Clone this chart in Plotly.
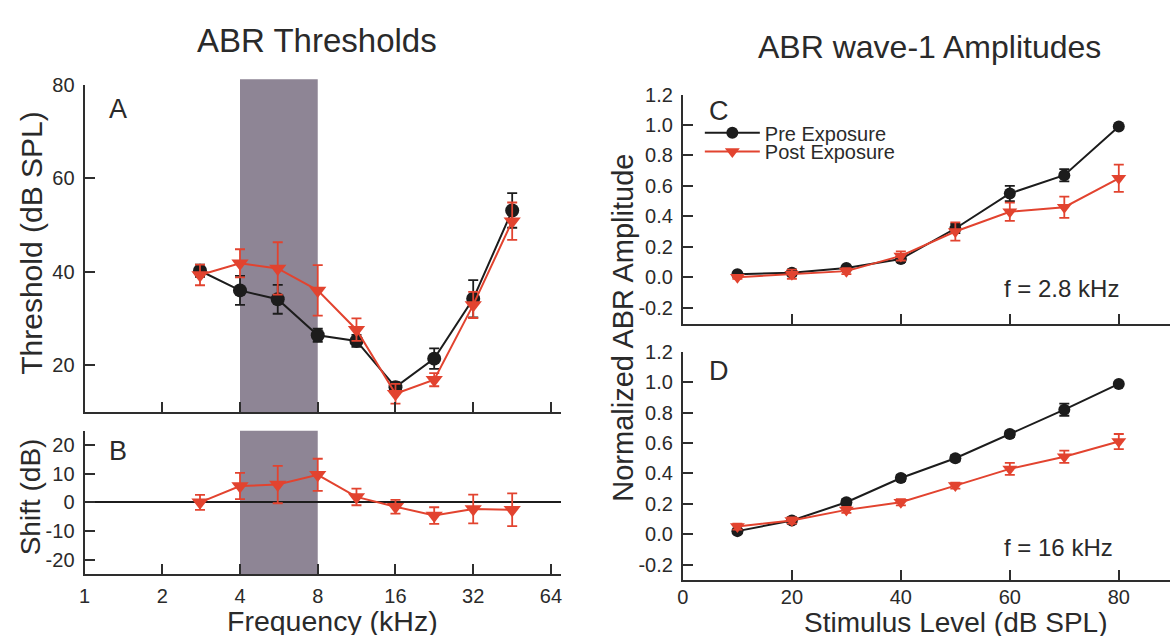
import numpy as np
import plotly.graph_objects as go

# ---------------- data ----------------
freq_khz = [2.8, 4, 5.6, 8, 11.3, 16, 22.6, 32, 45.3]
pre_thr = [40.2, 36.0, 34.1, 26.4, 25.2, 15.3, 21.4, 34.2, 53.1]
pre_thr_err = [1.3, 3.1, 3.1, 1.4, 1.3, 1.1, 2.2, 4.0, 3.7]
post_thr = [39.3, 41.8, 40.7, 36.0, 27.6, 13.9, 16.9, 32.9, 50.8]
post_thr_err = [2.2, 3.0, 5.6, 5.4, 2.4, 2.1, 1.4, 2.8, 4.0]
shift_db = [0.0, 5.7, 6.2, 9.6, 1.9, -1.5, -4.6, -2.3, -2.6]
shift_err = [2.6, 4.6, 6.5, 5.6, 2.9, 2.4, 2.9, 5.0, 5.7]
exposure_band_khz = [4, 8]

freq_ticks = [1, 2, 4, 8, 16, 32, 64]
freq_ticklabels = ["1", "2", "4", "8", "16", "32", "64"]
thr_ticks = [20, 40, 60, 80]
shift_ticks = [20, 10, 0, -10, -20]
shift_ticklabels = ["20", "10", "0", "-10", "-20"]

level_db = [10, 20, 30, 40, 50, 60, 70, 80]
c_pre = [0.02, 0.03, 0.06, 0.12, 0.32, 0.55, 0.67, 0.99]
c_pre_err = [0.01, 0.02, 0.01, 0.02, 0.03, 0.05, 0.04, 0.01]
c_post = [0.0, 0.02, 0.04, 0.14, 0.30, 0.43, 0.46, 0.65]
c_post_err = [0.01, 0.03, 0.02, 0.03, 0.06, 0.06, 0.07, 0.09]
d_pre = [0.02, 0.09, 0.21, 0.37, 0.50, 0.66, 0.82, 0.99]
d_pre_err = [0.01, 0.02, 0.02, 0.02, 0.02, 0.02, 0.04, 0.01]
d_post = [0.05, 0.09, 0.16, 0.21, 0.32, 0.43, 0.51, 0.61]
d_post_err = [0.02, 0.02, 0.02, 0.02, 0.02, 0.04, 0.04, 0.05]
amp_ticks = [-0.2, 0.0, 0.2, 0.4, 0.6, 0.8, 1.0, 1.2]
amp_ticklabels = ["-0.2", "0.0", "0.2", "0.4", "0.6", "0.8", "1.0", "1.2"]
level_ticks = [0, 20, 40, 60, 80]
level_ticklabels = ["0", "20", "40", "60", "80"]

# ---------------- style ----------------
W, H = 1171, 637
FONT = "Liberation Sans, Arial, sans-serif"
BLACK = "#1c1c1c"
RED = "#e2432f"
AXC = "#2e2e2e"
SHADE = "#8e8595"
TXT = "#2a2a2a"


def px_x(p):
    return p / W


def px_y(p):
    return 1 - p / H


fig = go.Figure()


def add_series(x, y, err, xa, ya, color, symbol, size, name, showlegend, legend="legend"):
    fig.add_trace(go.Scatter(
        x=x, y=y, xaxis=xa, yaxis=ya, mode="lines+markers", name=name,
        showlegend=showlegend, legend=legend,
        line=dict(color=color, width=2),
        marker=dict(color=color, symbol=symbol, size=size),
        error_y=dict(type="data", array=err, color=color, thickness=1.8, width=5),
    ))


# Panel A
add_series(freq_khz, pre_thr, pre_thr_err, "x", "y", BLACK, "circle", 14, "Pre Exposure", False)
add_series(freq_khz, post_thr, post_thr_err, "x", "y", RED, "triangle-down", 15, "Post Exposure", False)
# Panel B
add_series(freq_khz, shift_db, shift_err, "x2", "y2", RED, "triangle-down", 15, "Shift", False)
# Panel C
add_series(level_db, c_pre, c_pre_err, "x3", "y3", BLACK, "circle", 12, "Pre Exposure", True, "legend")
add_series(level_db, c_post, c_post_err, "x3", "y3", RED, "triangle-down", 13, "Post Exposure", True, "legend2")
# Panel D
add_series(level_db, d_pre, d_pre_err, "x4", "y4", BLACK, "circle", 12, "Pre Exposure", False)
add_series(level_db, d_post, d_post_err, "x4", "y4", RED, "triangle-down", 13, "Post Exposure", False)

tickfont = dict(family=FONT, size=20, color=TXT)
axbase = dict(showline=True, linecolor=AXC, linewidth=2, ticks="inside", ticklen=10,
              tickwidth=2, tickcolor=AXC, showgrid=False, zeroline=False, tickfont=tickfont)

log_range = [0, np.log10(2) * 6.125]
dom_ax = [px_x(79), px_x(558)]
dom_cx = [px_x(681), 1.0]

legend_style = dict(xanchor="left", yanchor="top", bgcolor="rgba(0,0,0,0)",
                    font=dict(family=FONT, size=20, color=TXT), itemwidth=55)

fig.update_layout(
    width=W, height=H,
    margin=dict(l=0, r=0, t=0, b=0),
    paper_bgcolor="white", plot_bgcolor="white",
    font=dict(family=FONT, color=TXT),
    xaxis=dict(axbase, type="log", domain=dom_ax, range=log_range, anchor="y",
               tickvals=freq_ticks, showticklabels=False),
    yaxis=dict(axbase, domain=[px_y(408), px_y(75)], range=[10, 80], anchor="x",
               tickvals=thr_ticks, ticklabelstandoff=4),
    xaxis2=dict(axbase, type="log", domain=dom_ax, range=log_range, anchor="y2",
                tickvals=freq_ticks, ticktext=freq_ticklabels, ticklabelstandoff=3),
    yaxis2=dict(axbase, domain=[px_y(573), px_y(427)], range=[-25, 25], anchor="x2",
                tickvals=shift_ticks, ticktext=shift_ticklabels, ticklabelstandoff=4,
                zeroline=True, zerolinecolor=BLACK, zerolinewidth=2),
    xaxis3=dict(axbase, domain=dom_cx, range=[0, 89.4], anchor="y3",
                tickvals=level_ticks, showticklabels=False),
    yaxis3=dict(axbase, domain=[px_y(318), px_y(85)], range=[-0.304, 1.2], anchor="x3",
                tickvals=amp_ticks, ticktext=amp_ticklabels, ticklabelstandoff=4),
    xaxis4=dict(axbase, domain=dom_cx, range=[0, 89.4], anchor="y4",
                tickvals=level_ticks, ticktext=level_ticklabels, ticklabelstandoff=-2),
    yaxis4=dict(axbase, domain=[px_y(579), px_y(347)], range=[-0.302, 1.2], anchor="x4",
                tickvals=amp_ticks, ticktext=amp_ticklabels, ticklabelstandoff=4),
    legend=dict(legend_style, x=px_x(698), y=px_y(104)),
    legend2=dict(legend_style, x=px_x(698), y=px_y(123)),
)

# exposure band shading
fig.add_shape(type="rect", xref="x", yref="y domain", x0=exposure_band_khz[0], x1=exposure_band_khz[1],
              y0=0, y1=1.017, fillcolor=SHADE, line=dict(width=0), layer="below")
fig.add_shape(type="rect", xref="x2", yref="y2 domain", x0=exposure_band_khz[0], x1=exposure_band_khz[1],
              y0=0, y1=1.0, fillcolor=SHADE, line=dict(width=0), layer="below")


def note(text, x, y, size, angle=0, xanchor="center", box_h=None):
    kw = {}
    if box_h is not None:
        kw["height"] = box_h
        kw["valign"] = "middle"
    fig.add_annotation(text=text, x=px_x(x), y=px_y(y), xref="paper", yref="paper",
                       showarrow=False, textangle=angle, xanchor=xanchor, yanchor="middle",
                       font=dict(family=FONT, size=size, color=TXT), **kw)


note("ABR Thresholds", 313, 30, 33)
note("ABR wave-1 Amplitudes", 929, 37, 32)
note("Threshold (dB SPL)", 26, 236, 30, -90)
note("Shift (dB)", 25, 494, 28, -90)
note("Frequency (kHz)", 328, 621, 28.5, box_h=28)
note("Stimulus Level (dB SPL)", 955, 622, 28, box_h=28)
note("Normalized ABR Amplitude", 621, 322, 29, -90)
note("A", 113, 100, 27)
note("B", 113, 448, 27)
note("C", 717, 102, 27)
note("D", 717, 366, 27)
note("f = 2.8 kHz", 1062, 282, 24)
note("f = 16 kHz", 1059, 546, 24)

fig.write_html("out.html", post_script="document.body.style.margin='0px';")
